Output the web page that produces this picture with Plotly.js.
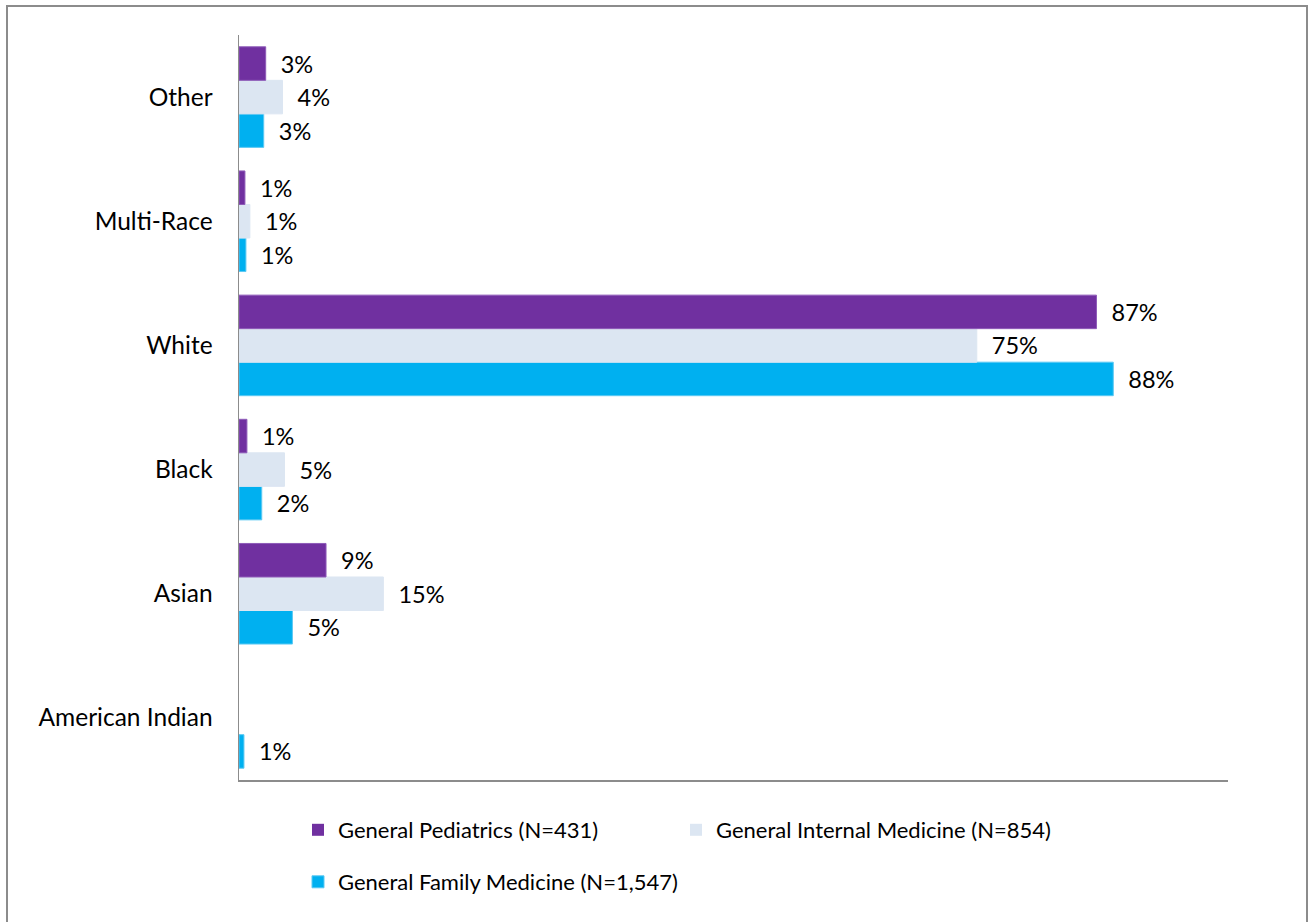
<!DOCTYPE html>
<html>
<head>
<meta charset="utf-8">
<script src="https://cdn.plot.ly/plotly-3.0.1.min.js"></script>
<style>html,body{margin:0;padding:0;background:#fff;}#chart{width:1308px;height:922px;}</style>
</head>
<body>
<div id="chart"></div>
<script>
// Data (categories listed bottom to top)
var categories = ["American Indian", "Asian", "Black", "White", "Multi-Race", "Other"];
var pediatrics = [0, 8.8, 0.8, 86.7, 0.6, 2.7];
var internalMed = [0, 14.6, 4.6, 74.6, 1.1, 4.4];
var familyMed = [0.5, 5.4, 2.3, 88.4, 0.7, 2.5];
var seriesNames = ["General Pediatrics (N=431)", "General Internal Medicine (N=854)", "General Family Medicine (N=1,547)"];

var FONT = "Lato, 'Open Sans', sans-serif";
var W = 1308, H = 922;
var ML = 239, MR = 80, MT = 35, MB = 142;
var PW = W - ML - MR, PH = H - MT - MB;
function px2x(p){ return (p - ML) / PW; }
function py2y(p){ return (H - MB - p) / PH; }

function labels(arr){
  return arr.map(function(v){ return v > 0 ? '\u00a0\u00a0' + Math.round(v) + '%' : ''; });
}
function barTrace(vals, name, color, lineColor, legendId){
  return {
    type: 'bar', orientation: 'h',
    y: categories, x: vals, name: name,
    text: labels(vals), textposition: 'outside', constraintext: 'none', cliponaxis: false,
    textfont: {family: FONT, size: 23.5, color: '#000'},
    marker: {color: color, line: {color: lineColor, width: vals.map(function(v){ return v > 0 ? 1 : 0; })}},
    hoverinfo: 'x+y', legend: legendId
  };
}
var traces = [
  barTrace(familyMed, seriesNames[2], '#00B0F0', '#5BC9F3', 'legend3'),
  barTrace(internalMed, seriesNames[1], '#DCE6F2', '#DCE6F2', 'legend2'),
  barTrace(pediatrics, seriesNames[0], '#7030A0', '#8E5AB8', 'legend')
];

function leg(xpx, ypx){
  return {x: px2x(xpx), y: py2y(ypx), xanchor: 'left', yanchor: 'middle', orientation: 'h',
          font: {family: FONT, size: 22, color: '#000'}, bgcolor: 'rgba(0,0,0,0)', borderwidth: 0};
}

var layout = {
  width: W, height: H,
  margin: {l: ML, r: MR, t: MT, b: MB, pad: 0},
  paper_bgcolor: '#fff', plot_bgcolor: '#fff',
  barmode: 'group', bargap: 0.19, bargroupgap: 0,
  font: {family: FONT, size: 22, color: '#000'},
  showlegend: true,
  xaxis: {range: [0, 100], showgrid: false, zeroline: false, showticklabels: false, ticks: '',
          showline: true, linecolor: '#8C8C8C', linewidth: 1.5, fixedrange: true},
  yaxis: {type: 'category', categoryorder: 'array', categoryarray: categories, range: [-0.5, 5.5],
          showgrid: false, zeroline: false, ticks: '', ticklabelstandoff: 20,
          showline: true, linecolor: '#8C8C8C', linewidth: 1.5,
          tickfont: {family: FONT, size: 24.5, color: '#000'}, fixedrange: true},
  legend: leg(298, 830),
  legend2: leg(676, 830),
  legend3: leg(298, 882),
  shapes: [{type: 'rect', xref: 'paper', yref: 'paper',
            x0: px2x(7), x1: px2x(1307), y0: py2y(6), y1: py2y(935),
            line: {color: '#8C8C8C', width: 2}, fillcolor: 'rgba(0,0,0,0)', layer: 'below'}]
};

Plotly.newPlot('chart', traces, layout, {displayModeBar: false, staticPlot: true});
</script>
</body>
</html>
